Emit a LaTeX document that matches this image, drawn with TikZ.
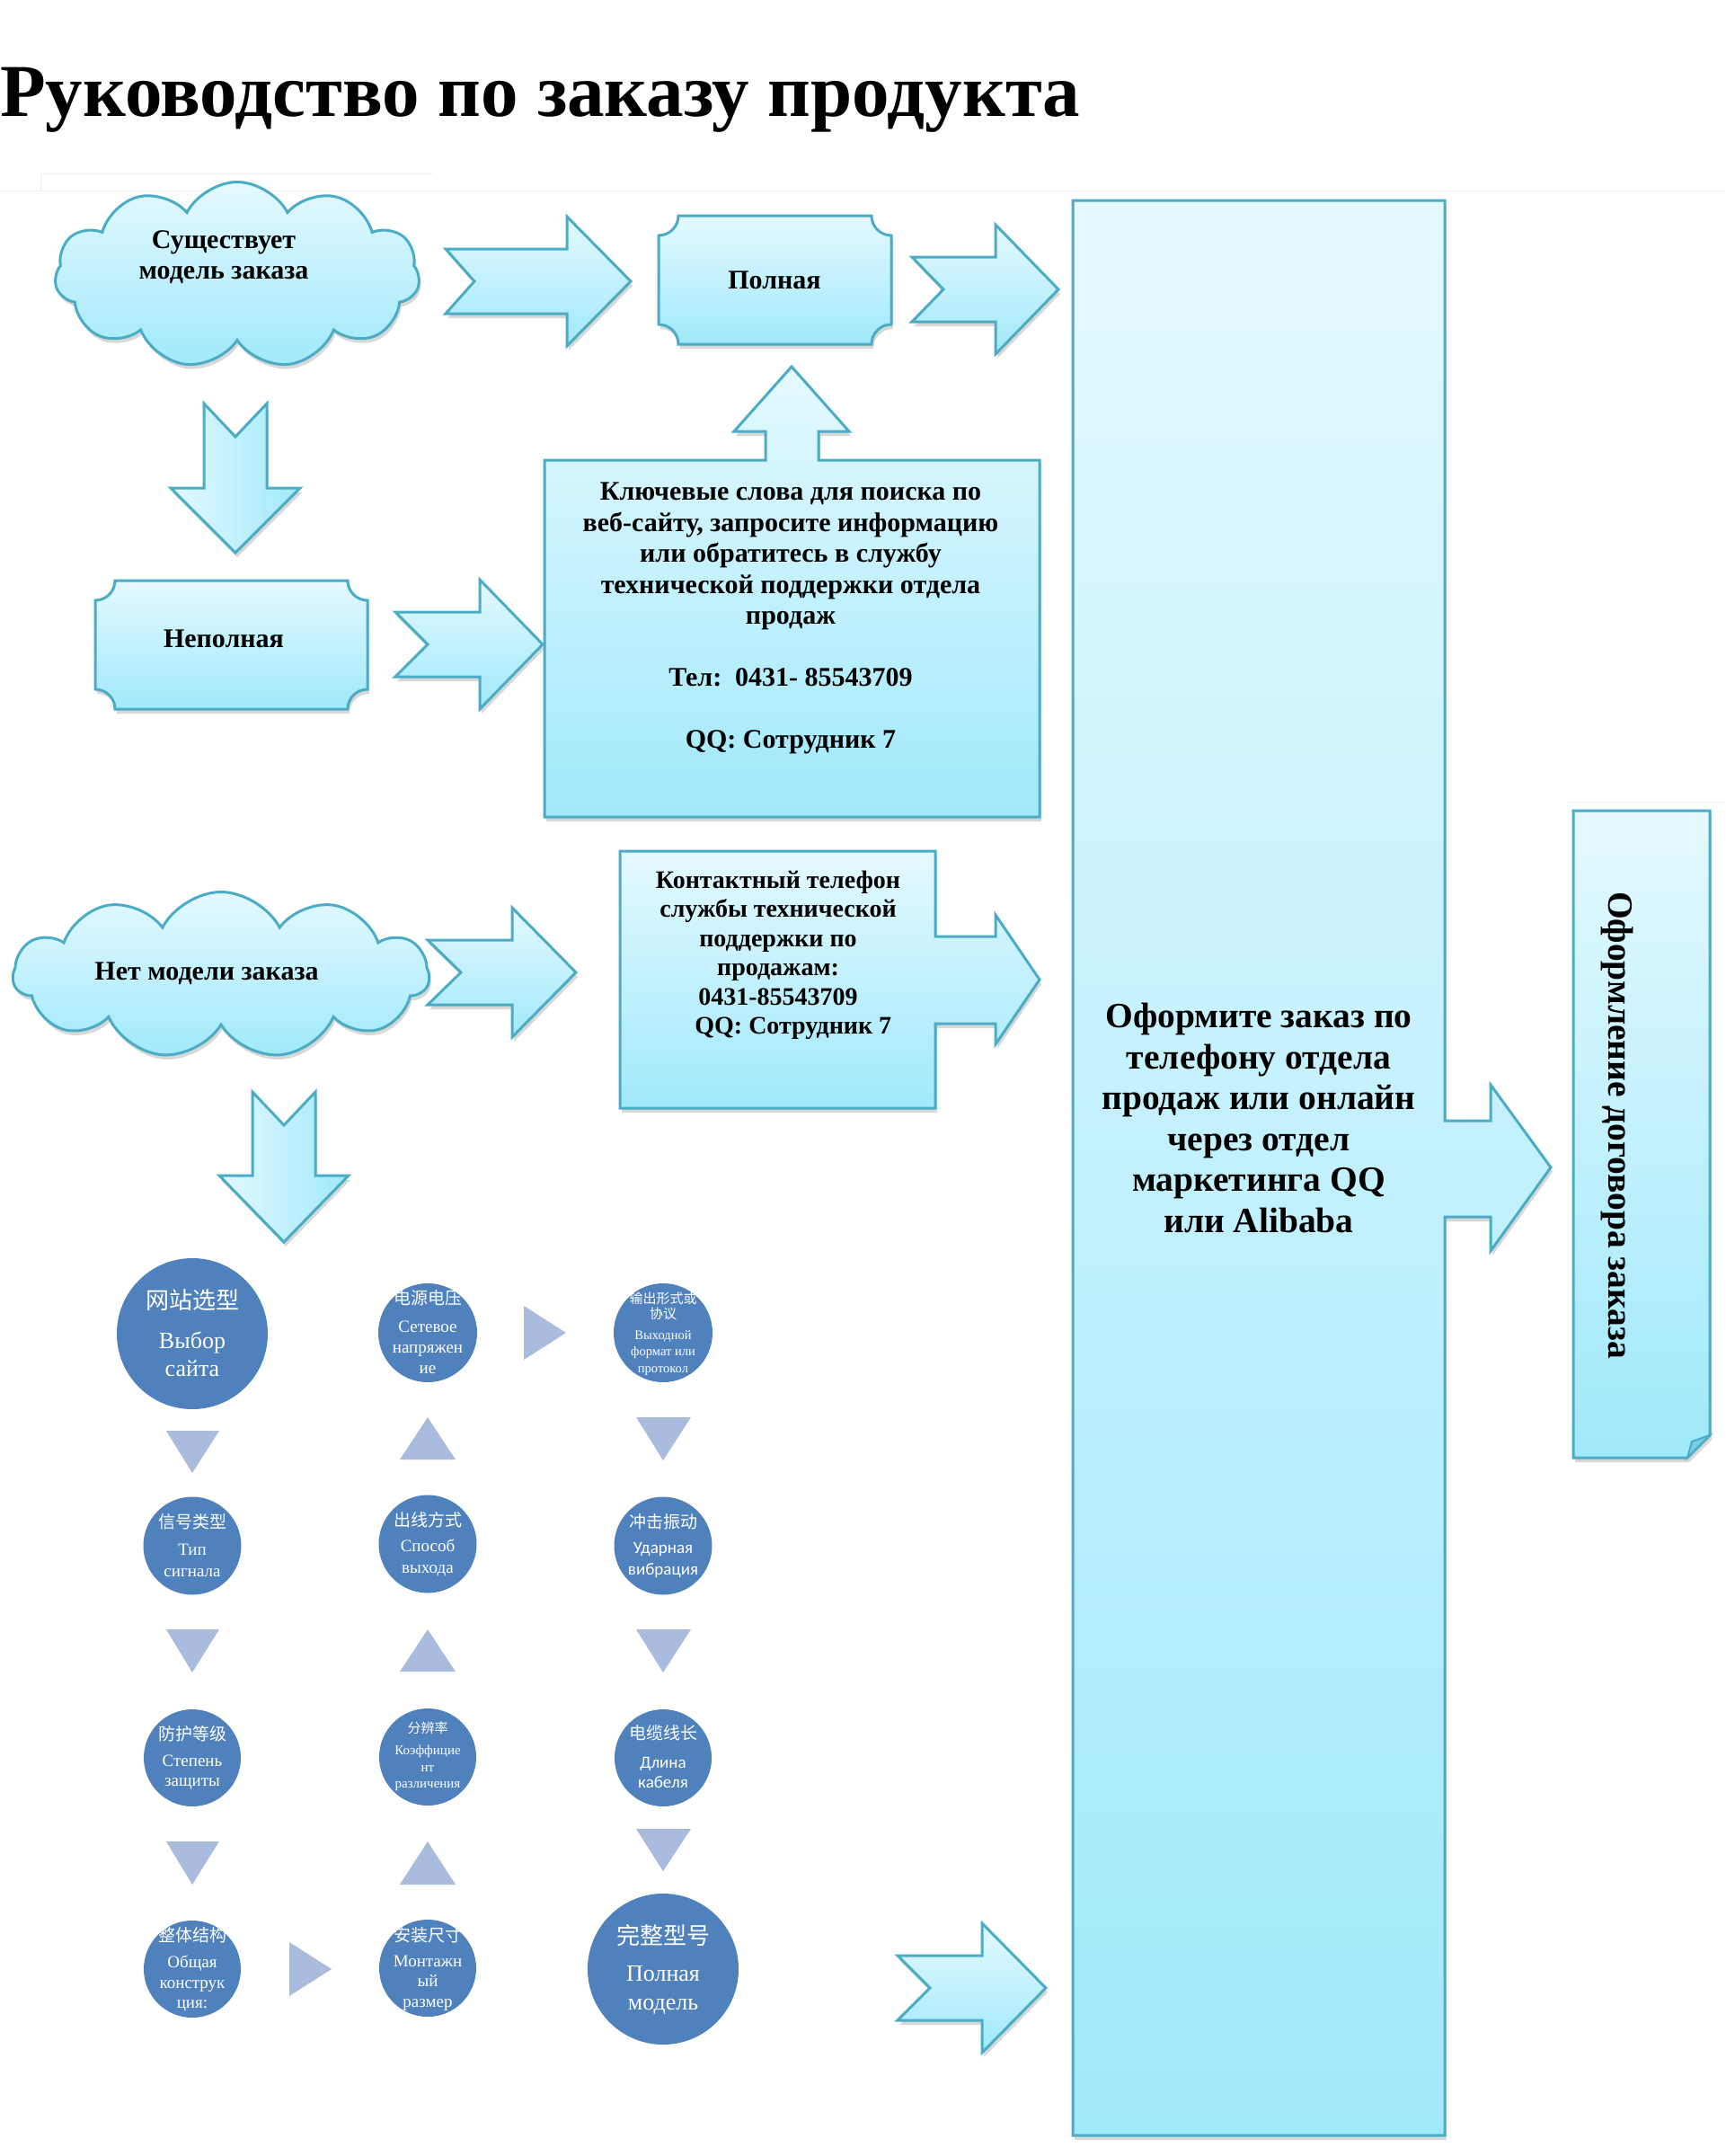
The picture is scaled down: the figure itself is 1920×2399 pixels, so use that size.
\documentclass[tikz,border=0pt]{standalone}
\usepackage{fontspec}
\setmainfont{Liberation Serif}
\newfontfamily\cjk{Noto Sans CJK SC}
\newfontfamily\carl{Carlito}
\usetikzlibrary{shapes.symbols,shadows}

\definecolor{bord}{HTML}{4BACC6}
\definecolor{ctop}{HTML}{E4F9FE}
\definecolor{cbot}{HTML}{A0E9FB}
\definecolor{cblue}{HTML}{4F81BD}
\definecolor{ctri}{HTML}{A9BCDD}

\tikzset{
  shp/.style={draw=bord, line width=3pt, line join=miter, top color=ctop, bottom color=cbot,
    drop shadow={shadow xshift=2pt, shadow yshift=-5pt, opacity=.3}},
  vshp/.style={draw=bord, line width=3pt, line join=miter, left color=ctop, right color=cbot,
    drop shadow={shadow xshift=2pt, shadow yshift=-5pt, opacity=.3}},
  cloudshp/.style={cloud, cloud puffs=11, cloud puff arc=125, cloud ignores aspect, inner sep=0pt,
    draw=bord, line width=3pt, top color=ctop, bottom color=cbot,
    drop shadow={shadow xshift=2pt, shadow yshift=-5pt, opacity=.3}},
  txt/.style={font=\bfseries\fontsize{30}{34.5}\selectfont, align=center, inner sep=0pt},
  ctxt/.style={font=\bfseries\fontsize{28}{32.5}\selectfont, align=center, inner sep=0pt},
  ktxt/.style={font=\bfseries\fontsize{30}{34.5}\selectfont, align=center, inner sep=0pt},
  bigtxt/.style={font=\bfseries\fontsize{39.5}{45.6}\selectfont, align=center, inner sep=0pt},
  bubble/.style={circle, fill=cblue, inner sep=0pt, minimum size=#1},
  zh/.style n args={2}{font=\cjk\fontsize{#1}{#2}\selectfont, text=white, align=center, inner sep=0pt},
  ru/.style n args={2}{font=\fontsize{#1}{#2}\selectfont, text=white, align=center, inner sep=0pt},
  rus/.style n args={2}{font=\carl\fontsize{#1}{#2}\selectfont, text=white, align=center, inner sep=0pt},
  tri/.style={fill=ctri}
}

% right block arrow with notched tail: xt xn xh xp yc bodyhalf headhalf
\newcommand\rarr[7]{\path[shp] (#1,#5-#6) -- (#3,#5-#6) -- (#3,#5-#7) -- (#4,#5) -- (#3,#5+#7) -- (#3,#5+#6) -- (#1,#5+#6) -- (#2,#5) -- cycle;}
% down block arrow: xc top notch headbase tip stemhalf headhalf
\newcommand\darr[7]{\path[vshp] (#1-#6,#2) -- (#1,#3) -- (#1+#6,#2) -- (#1+#6,#4) -- (#1+#7,#4) -- (#1,#5) -- (#1-#7,#4) -- (#1-#6,#4) -- cycle;}
% plaque with concave corners: x1 y1 x2 y2 r
\newcommand\plaque[5]{\path[shp] (#1+#5,#2) -- (#3-#5,#2)
  .. controls (#3-#5,#2+0.552*#5) and (#3-0.552*#5,#2+#5) .. (#3,#2+#5)
  -- (#3,#4-#5) .. controls (#3-0.552*#5,#4-#5) and (#3-#5,#4-0.552*#5) .. (#3-#5,#4)
  -- (#1+#5,#4) .. controls (#1+#5,#4-0.552*#5) and (#1+0.552*#5,#4-#5) .. (#1,#4-#5)
  -- (#1,#2+#5) .. controls (#1+0.552*#5,#2+#5) and (#1+#5,#2+0.552*#5) .. (#1+#5,#2) -- cycle;}

\begin{document}
\begin{tikzpicture}[x=1pt,y=-1pt]
\useasboundingbox (0,0) rectangle (1920,2399);
\fill[white] (0,0) rectangle (1920,2399);

% faint lines
\draw[black!7, line width=1pt] (45,212) -- (45,193) -- (482,193);
\draw[black!5, line width=1pt] (0,212) -- (1920,212);
\draw[black!5, line width=1pt] (1744,892) -- (1920,892);

% title
\node[anchor=base west, inner sep=0pt, font=\bfseries\fontsize{83}{90}\selectfont] (title) at (0,129) {Руководство по заказу продукта};

% big right callout box
\path[shp] (1194,223) -- (1608,223) -- (1608,1247) -- (1659,1247) -- (1659,1207) -- (1726,1299)
  -- (1659,1392) -- (1659,1354) -- (1608,1354) -- (1608,2376) -- (1194,2376) -- cycle;
\node[bigtxt] (order) at (1401,1244) {Оформите заказ по\\телефону отдела\\продаж или онлайн\\через отдел\\маркетинга QQ\\или Alibaba};

% vertical folded box
\path[shp] (1751,902) -- (1903,902) -- (1903,1597) -- (1878,1622) -- (1751,1622) -- cycle;
\path[draw=bord, line width=2pt, fill=bord!45!cbot] (1903,1597) -- (1883,1604) -- (1878,1622) -- cycle;
\node[font=\bfseries\fontsize{39.5}{44}\selectfont, rotate=-90, inner sep=0pt] (contract) at (1800,1252) {Оформление договора заказа};

% cloud 1
\node[cloudshp, minimum width=406pt, minimum height=207pt] (cl1) at (264,306) {};
\node[txt] (cl1t) at (249,286) {Существует\\модель заказа};

% arrow to "Полная"
\rarr{496}{528}{631}{702}{313}{36}{72}
% Полная
\plaque{733}{240}{992}{383}{22}
\node[txt] (full) at (862,312) {Полная};
% arrow to big box
\rarr{1015}{1050}{1108}{1178}{322}{36}{72}

% down arrow 1
\darr{262}{449}{486}{543}{615}{35}{72}

% Неполная
\plaque{106}{646}{409}{789}{22}
\node[txt] (partial) at (249,711) {Неполная};
\rarr{440}{476}{534}{604}{717}{36}{72}

% keyword box with up arrow
\path[shp] (606,512) -- (852,512) -- (852,480) -- (817,480) -- (881,408) -- (945,480) -- (911,480)
  -- (911,512) -- (1157,512) -- (1157,909) -- (606,909) -- cycle;
\node[ktxt] (kw) at (880,688) {Ключевые слова для поиска по\\веб-сайту, запросите информацию\\или обратитесь в службу\\технической поддержки отдела\\продаж\\[34.5pt]Тел:\ \ 0431- 85543709\\[34.5pt]QQ: Сотрудник 7};

% cloud 2
\node[cloudshp, minimum width=463pt, minimum height=185pt] (cl2) at (246,1085) {};
\node[txt] (cl2t) at (230,1083) {Нет модели заказа};
\rarr{476}{513}{570}{641}{1082}{36}{72}

% contact callout
\path[shp] (690,947) -- (1041,947) -- (1041,1042) -- (1108,1042) -- (1108,1018) -- (1157,1090)
  -- (1108,1162) -- (1108,1139) -- (1041,1139) -- (1041,1233) -- (690,1233) -- cycle;
\node[ctxt] (contact) at (866,1063) {Контактный телефон\\службы технической\\поддержки по\\продажам:\\0431-85543709\\\hspace*{1.2em}QQ: Сотрудник 7};

% down arrow 2
\darr{316}{1215}{1252}{1308}{1382}{35}{72}

% bottom arrow into big box
\rarr{999}{1035}{1093}{1164}{2212}{36}{72}

% circles
\node[bubble=168pt] (c1) at (214,1484) {};
\node[zh={26}{30}] (c1z) at (214,1447) {网站选型};
\node[ru={26}{31}] (c1r) at (214,1506.5) {Выбор\\сайта};

\node[bubble=110pt] (c2) at (476,1483) {};
\node[zh={19}{22}] (c2z) at (476,1444) {电源电压};
\node[ru={19}{23}] (c2r) at (476,1499) {Сетевое\\напряжен\\ие};

\node[bubble=110pt] (c3) at (738,1483) {};
\node[zh={15}{17}] (c3z) at (738,1453.5) {输出形式或\\协议};
\node[ru={14.5}{18.5}] (c3r) at (738,1505.5) {Выходной\\формат или\\протокол};

\node[bubble=109pt] (c4) at (214,1720) {};
\node[zh={19}{22}] (c4z) at (214,1693) {信号类型};
\node[ru={19}{24}] (c4r) at (214,1736) {Тип\\сигнала};

\node[bubble=109pt] (c5) at (476,1718) {};
\node[zh={19}{22}] (c5z) at (476,1691) {出线方式};
\node[ru={19}{24}] (c5r) at (476,1734) {Способ\\выхода};

\node[bubble=109pt] (c6) at (738,1720) {};
\node[zh={19}{22}] (c6z) at (738,1693) {冲击振动};
\node[rus={19}{24}] (c6r) at (738,1736) {Ударная\\вибрация};

\node[bubble=108pt] (c7) at (214,1956) {};
\node[zh={19}{22}] (c7z) at (214,1929) {防护等级};
\node[ru={19}{22}] (c7r) at (214,1972) {Степень\\защиты};

\node[bubble=108pt] (c8) at (476,1955) {};
\node[zh={15}{17}] (c8z) at (476,1923) {分辨率};
\node[ru={15}{18.5}] (c8r) at (476,1967.5) {Коэффицие\\нт\\различения};

\node[bubble=108pt] (c9) at (738,1956) {};
\node[zh={19}{22}] (c9z) at (738,1928) {电缆线长};
\node[rus={19}{22}] (c9r) at (738,1972) {Длина\\кабеля};

\node[bubble=108pt] (c10) at (214,2191) {};
\node[zh={19}{22}] (c10z) at (214,2153) {整体结构};
\node[ru={19}{22.5}] (c10r) at (214,2207.5) {Общая\\конструк\\ция:};

\node[bubble=108pt] (c11) at (476,2190) {};
\node[zh={19}{22}] (c11z) at (476,2153) {安装尺寸};
\node[ru={19}{22.5}] (c11r) at (476,2206.5) {Монтажн\\ый\\размер};

\node[bubble=168pt] (c12) at (738,2191) {};
\node[zh={26}{30}] (c12z) at (738,2153) {完整型号};
\node[ru={26}{32}] (c12r) at (738,2214) {Полная\\модель};

% triangles
\fill[tri] (583,1453) -- (630,1483) -- (583,1513) -- cycle;
\fill[tri] (185,1592) -- (244,1592) -- (214,1639) -- cycle;
\fill[tri] (445,1624) -- (507,1624) -- (476,1577) -- cycle;
\fill[tri] (708,1577) -- (769,1577) -- (738,1625) -- cycle;
\fill[tri] (185,1813) -- (244,1813) -- (214,1861) -- cycle;
\fill[tri] (445,1860) -- (507,1860) -- (476,1813) -- cycle;
\fill[tri] (708,1813) -- (769,1813) -- (738,1861) -- cycle;
\fill[tri] (185,2049) -- (244,2049) -- (214,2097) -- cycle;
\fill[tri] (445,2097) -- (507,2097) -- (476,2049) -- cycle;
\fill[tri] (708,2035) -- (769,2035) -- (738,2082) -- cycle;
\fill[tri] (322,2161) -- (369,2191) -- (322,2221) -- cycle;
\end{tikzpicture}
\end{document}
